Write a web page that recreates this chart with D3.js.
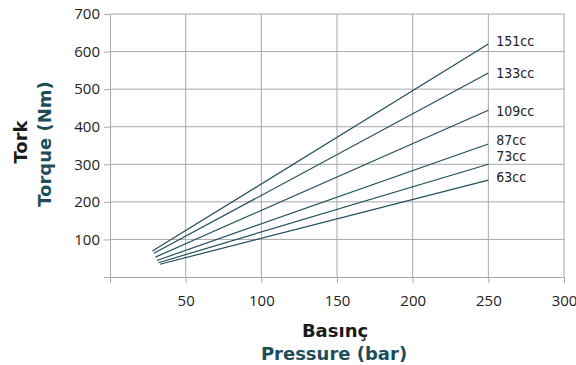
<!DOCTYPE html>
<html>
<head>
<meta charset="utf-8">
<script src="https://cdn.jsdelivr.net/npm/d3@7"></script>
<style>
  body { margin: 0; background: #fff; }
  svg { display: block; }
</style>
</head>
<body>
<script>
// Motor series (displacement) and their torque curves
const series = ['151cc', '133cc', '109cc', '87cc', '73cc', '63cc']
const startPressure = [28, 29, 30, 31, 32, 33]
const startTorque = [69, 63, 53, 44, 38, 34]
const endPressure = [250, 250, 250, 250, 250, 250]
const endTorque = [620, 543, 444, 354, 300, 258]
const xTicks = [50, 100, 150, 200, 250, 300]
const yTicks = [100, 200, 300, 400, 500, 600, 700]

const width = 576
const height = 365
const margin = { left: 110, right: 12, top: 14, bottom: 88 }
const lineColor = '#1f4f5c'
const gridColor = '#a8a8a8'
const labelShift = [3, 0, -1, 4, 8, 3]

const svg = d3.select('body').append('svg')
  .attr('width', width)
  .attr('height', height)

const x = d3.scaleLinear().domain([0, 300]).range([margin.left, width - margin.right])
const y = d3.scaleLinear().domain([0, 700]).range([height - margin.bottom, margin.top])

// Grid
svg.append('g')
  .selectAll('line')
  .data(xTicks)
  .enter()
  .append('line')
  .attr('x1', (d) => x(d)).attr('x2', (d) => x(d))
  .attr('y1', y(0)).attr('y2', y(700))
  .attr('stroke', gridColor)
svg.append('g')
  .selectAll('line')
  .data(yTicks)
  .enter()
  .append('line')
  .attr('x1', x(0)).attr('x2', x(300))
  .attr('y1', (d) => y(d)).attr('y2', (d) => y(d))
  .attr('stroke', gridColor)

// Axes
const xAxis = svg.append('g')
  .attr('transform', `translate(0,${y(0)})`)
  .call(d3.axisBottom(x).tickValues(xTicks).tickSize(6).tickPadding(12))
const yAxis = svg.append('g')
  .attr('transform', `translate(${x(0)},0)`)
  .call(d3.axisLeft(y).tickValues(yTicks).tickSize(6).tickPadding(4))

;[xAxis, yAxis].forEach((a) => {
  a.select('.domain').attr('stroke', gridColor)
  a.selectAll('.tick line').attr('stroke', gridColor)
  a.selectAll('.tick text')
    .attr('fill', '#222')
    .style('font-family', '"Open Sans", sans-serif')
    .style('font-size', '15px')
})

// Torque lines
const lines = series.map((name, i) => ({
  name,
  pts: [[startPressure[i], startTorque[i]], [endPressure[i], endTorque[i]]],
  shift: labelShift[i]
}))

const line = d3.line().x((d) => x(d[0])).y((d) => y(d[1]))

svg.append('g')
  .selectAll('path')
  .data(lines)
  .enter()
  .append('path')
  .attr('d', (d) => line(d.pts))
  .attr('fill', 'none')
  .attr('stroke', lineColor)
  .attr('stroke-width', 1.2)

svg.append('g')
  .selectAll('text')
  .data(lines)
  .enter()
  .append('text')
  .attr('x', (d) => x(d.pts[1][0]) + 8)
  .attr('y', (d) => y(d.pts[1][1]) - d.shift)
  .attr('dy', '0.35em')
  .attr('fill', '#222')
  .style('font-family', '"DejaVu Sans Condensed", "DejaVu Sans", sans-serif')
  .style('font-stretch', 'condensed')
  .style('font-size', '14px')
  .text((d) => d.name)

// Axis titles
const titleFont = '"DejaVu Sans", sans-serif'
svg.append('text')
  .attr('x', 335).attr('y', 337)
  .attr('text-anchor', 'middle')
  .attr('fill', '#1a1a1a')
  .style('font-family', titleFont)
  .style('font-weight', 'bold')
  .style('font-size', '18px')
  .text('Basınç')
svg.append('text')
  .attr('x', 334).attr('y', 360)
  .attr('text-anchor', 'middle')
  .attr('fill', '#1e4d5a')
  .style('font-family', titleFont)
  .style('font-weight', 'bold')
  .style('font-size', '18px')
  .text('Pressure (bar)')

svg.append('text')
  .attr('transform', 'translate(27,142) rotate(-90)')
  .attr('text-anchor', 'middle')
  .attr('fill', '#1a1a1a')
  .style('font-family', titleFont)
  .style('font-weight', 'bold')
  .style('font-size', '18px')
  .text('Tork')
svg.append('text')
  .attr('transform', 'translate(51,144) rotate(-90)')
  .attr('text-anchor', 'middle')
  .attr('fill', '#1e4d5a')
  .style('font-family', titleFont)
  .style('font-weight', 'bold')
  .style('font-size', '18px')
  .text('Torque (Nm)')
</script>
</body>
</html>
